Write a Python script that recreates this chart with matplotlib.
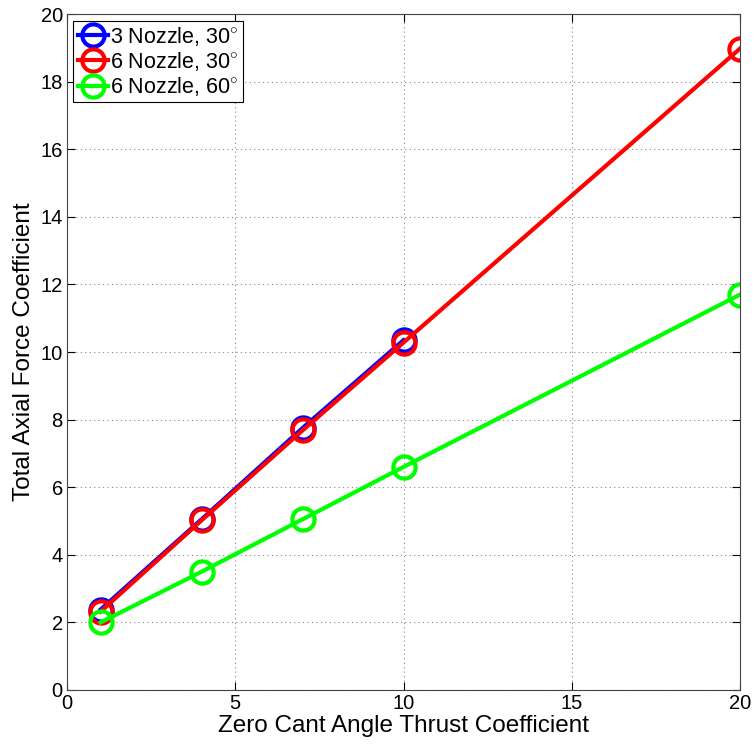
import numpy as np
from matplotlib import pyplot as plt

plt.rcParams['font.family'] = ['Liberation Sans', 'DejaVu Sans']
plt.rcParams['mathtext.fontset'] = 'custom'
plt.rcParams['mathtext.rm'] = 'Liberation Sans'

x_3n30 = [1, 4, 7, 10]
y_3n30 = [2.38, 5.05, 7.75, 10.35]
x_6n30 = [1, 4, 7, 10, 20]
y_6n30 = [2.32, 5.02, 7.68, 10.28, 18.98]
x_6n60 = [1, 4, 7, 10, 20]
y_6n60 = [2.0, 3.5, 5.05, 6.6, 11.7]
labels = ['3 Nozzle, 30$^{\\circ}$', '6 Nozzle, 30$^{\\circ}$', '6 Nozzle, 60$^{\\circ}$']

fig = plt.figure(figsize=(7.55, 7.44), dpi=100)
ax = fig.add_axes([0.0887, 0.0726, 0.8915, 0.9085])

style = dict(linewidth=3.0, marker='o', markersize=16, markerfacecolor='none', markeredgewidth=3.0)
ax.plot(x_3n30, y_3n30, color='#0000ff', label=labels[0], **style)
ax.plot(x_6n30, y_6n30, color='#ff0000', label=labels[1], **style)
ax.plot(x_6n60, y_6n60, color='#00ff00', label=labels[2], **style)

ax.set_xlim(0, 20)
ax.set_ylim(0, 20)
ax.set_xticks(range(0, 21, 5))
ax.set_yticks(range(0, 21, 2))
ax.grid(True, linestyle=(0, (1, 3)), color='#888888', linewidth=0.8)
ax.tick_params(direction='in', labelsize=14.5, length=6, top=True, right=True, pad=3)
for s in ax.spines.values():
    s.set_color('#444444')
ax.set_xlabel('Zero Cant Angle Thrust Coefficient', fontsize=17.5, labelpad=1)
ax.set_ylabel('Total Axial Force Coefficient', fontsize=17.5, labelpad=4)

leg = ax.legend(loc='upper left', fontsize=15.5, fancybox=False, edgecolor='black', framealpha=1,
                handlelength=1.4, handletextpad=0.1, borderaxespad=0.3, borderpad=0.2, labelspacing=0.1)
leg.get_frame().set_linewidth(0.8)

plt.savefig('out.png', dpi=100)
